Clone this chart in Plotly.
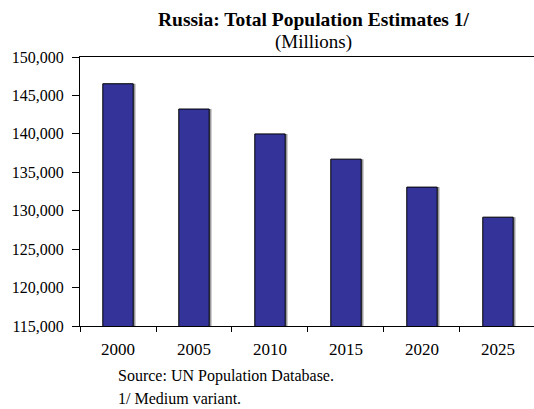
import plotly.graph_objects as go

# Russia: total population estimates (thousands), UN medium variant
years = ["2000", "2005", "2010", "2015", "2020", "2025"]
population = [146520, 143230, 139990, 136710, 133070, 129160]

y_ticks = [115000, 120000, 125000, 130000, 135000, 140000, 145000, 150000]

serif = "Liberation Serif, Times New Roman, serif"
bar_width = 0.4

fig = go.Figure()
# soft grey drop shadow along the right edge of each bar
fig.add_trace(go.Bar(
    x=years,
    y=population,
    marker=dict(color="#9a9a9a", line=dict(width=0)),
    width=bar_width,
    offset=-bar_width / 2 + 0.03,
    hoverinfo="skip",
))
fig.add_trace(go.Bar(
    x=years,
    y=population,
    marker=dict(color="#333399", line=dict(color="#000000", width=1)),
    width=bar_width,
    offset=-bar_width / 2,
    hoverinfo="x+y",
))

fig.update_layout(
    width=534,
    height=409,
    margin=dict(l=80, r=0, t=57, b=83),
    paper_bgcolor="white",
    plot_bgcolor="white",
    showlegend=False,
    barmode="overlay",
    font=dict(family=serif, color="black", size=16),
    xaxis=dict(
        type="category",
        range=[-0.5, 5.474],
        tickson="boundaries",
        ticks="outside",
        ticklen=5,
        tickcolor="black",
        showline=True,
        linecolor="black",
        linewidth=1,
        mirror=True,
        showgrid=False,
        tickfont=dict(family=serif, size=17),
        ticklabelstandoff=8,
    ),
    yaxis=dict(
        range=[115000, 150000],
        tickvals=y_ticks,
        tickformat=",d",
        ticks="outside",
        ticklen=7,
        tickcolor="black",
        showline=True,
        linecolor="black",
        linewidth=1,
        showgrid=False,
        zeroline=False,
        tickfont=dict(family=serif, size=16),
        ticklabelstandoff=5,
    ),
    annotations=[
        dict(text="<b>Russia: Total Population Estimates 1/</b>",
             xref="paper", yref="paper", x=0.515, y=1.0, yshift=38,
             xanchor="center", yanchor="middle", showarrow=False,
             font=dict(family=serif, size=19.5)),
        dict(text="(Millions)",
             xref="paper", yref="paper", x=0.515, y=1.0, yshift=15,
             xanchor="center", yanchor="middle", showarrow=False,
             font=dict(family=serif, size=19)),
        dict(text="Source: UN Population Database.",
             xref="paper", yref="paper", x=0.0, xshift=36, y=0.0, yshift=-50,
             xanchor="left", yanchor="middle", showarrow=False,
             font=dict(family=serif, size=16)),
        dict(text="1/ Medium variant.",
             xref="paper", yref="paper", x=0.0, xshift=36, y=0.0, yshift=-72,
             xanchor="left", yanchor="middle", showarrow=False,
             font=dict(family=serif, size=16)),
    ],
)

fig.write_html("out.html")
